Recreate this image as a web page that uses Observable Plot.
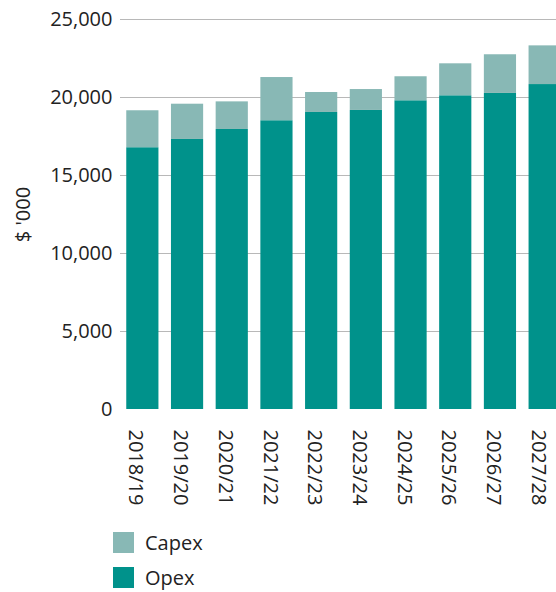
<!DOCTYPE html>
<html>
<head>
<meta charset="utf-8">
<script src="https://cdn.jsdelivr.net/npm/d3@7"></script>
<script src="https://cdn.jsdelivr.net/npm/@observablehq/plot@0.6"></script>
<style>
  html, body { margin: 0; padding: 0; background: #fff; overflow: hidden; }
  #wrap { width: 556px; overflow: hidden; font-family: "Open Sans", sans-serif; color: #222; }
  #chart svg { max-width: none !important; display: block; }
  .legend { margin-top: 17px; margin-left: 113px; }
  .row { display: flex; align-items: center; height: 21px; margin-bottom: 14px; font-size: 20px; }
  .sw { width: 21px; height: 21px; margin-right: 11px; }
</style>
</head>
<body>
<div id="wrap">
  <div id="chart"></div>
  <div class="legend" id="legend"></div>
</div>
<script>
const years = ["2018/19","2019/20","2020/21","2021/22","2022/23","2023/24","2024/25","2025/26","2026/27","2027/28"];
const opex  = [16780, 17310, 17950, 18510, 19040, 19170, 19790, 20110, 20260, 20830];
const capex = [2370, 2260, 1770, 2770, 1280, 1340, 1540, 2050, 2480, 2480];
const series = ["Opex", "Capex"];
const colors = ["#00928b", "#88b8b5"];
const yTicks = [0, 5000, 10000, 15000, 20000, 25000];
const yLabel = "$ '000";

const rows = [];
years.forEach((y, i) => {
  rows.push({year: y, type: "Opex", value: opex[i]});
  rows.push({year: y, type: "Capex", value: capex[i]});
});

const chart = Plot.plot({
  width: 567,
  height: 515,
  marginLeft: 120,
  marginRight: 0,
  marginTop: 19,
  marginBottom: 106,
  style: {fontFamily: "'Open Sans', sans-serif", fontSize: "20px", color: "#222", background: "#fff", maxWidth: "none"},
  x: {type: "band", domain: years, paddingInner: 0.28, paddingOuter: 0.14, round: false, label: null},
  y: {domain: [0, 25000], label: null},
  color: {domain: series, range: colors},
  marks: [
    Plot.gridY(yTicks.filter(d => d > 0), {stroke: "#b8b8b8", strokeOpacity: 1, strokeWidth: 1.2}),
    Plot.barY(rows, {x: "year", y: "value", fill: "type", order: series}),
    Plot.axisY({ticks: yTicks, tickSize: 0, tickPadding: 8, tickFormat: d3.format(","), label: null, fontSize: 20}),
    Plot.text([yLabel], {frameAnchor: "left", textAnchor: "middle", dx: -97, rotate: -90, fontSize: 20, fill: "#222"}),
    Plot.axisX({tickSize: 0, tickRotate: 90, textAnchor: "start", tickPadding: 20, dx: -7, label: null, fontSize: 20})
  ]
});
document.getElementById("chart").appendChild(chart);

const legend = document.getElementById("legend");
[["Capex", colors[1]], ["Opex", colors[0]]].forEach(([name, c]) => {
  const r = document.createElement("div");
  r.className = "row";
  r.innerHTML = `<div class="sw" style="background:${c}"></div><span>${name}</span>`;
  legend.appendChild(r);
});
</script>
</body>
</html>
